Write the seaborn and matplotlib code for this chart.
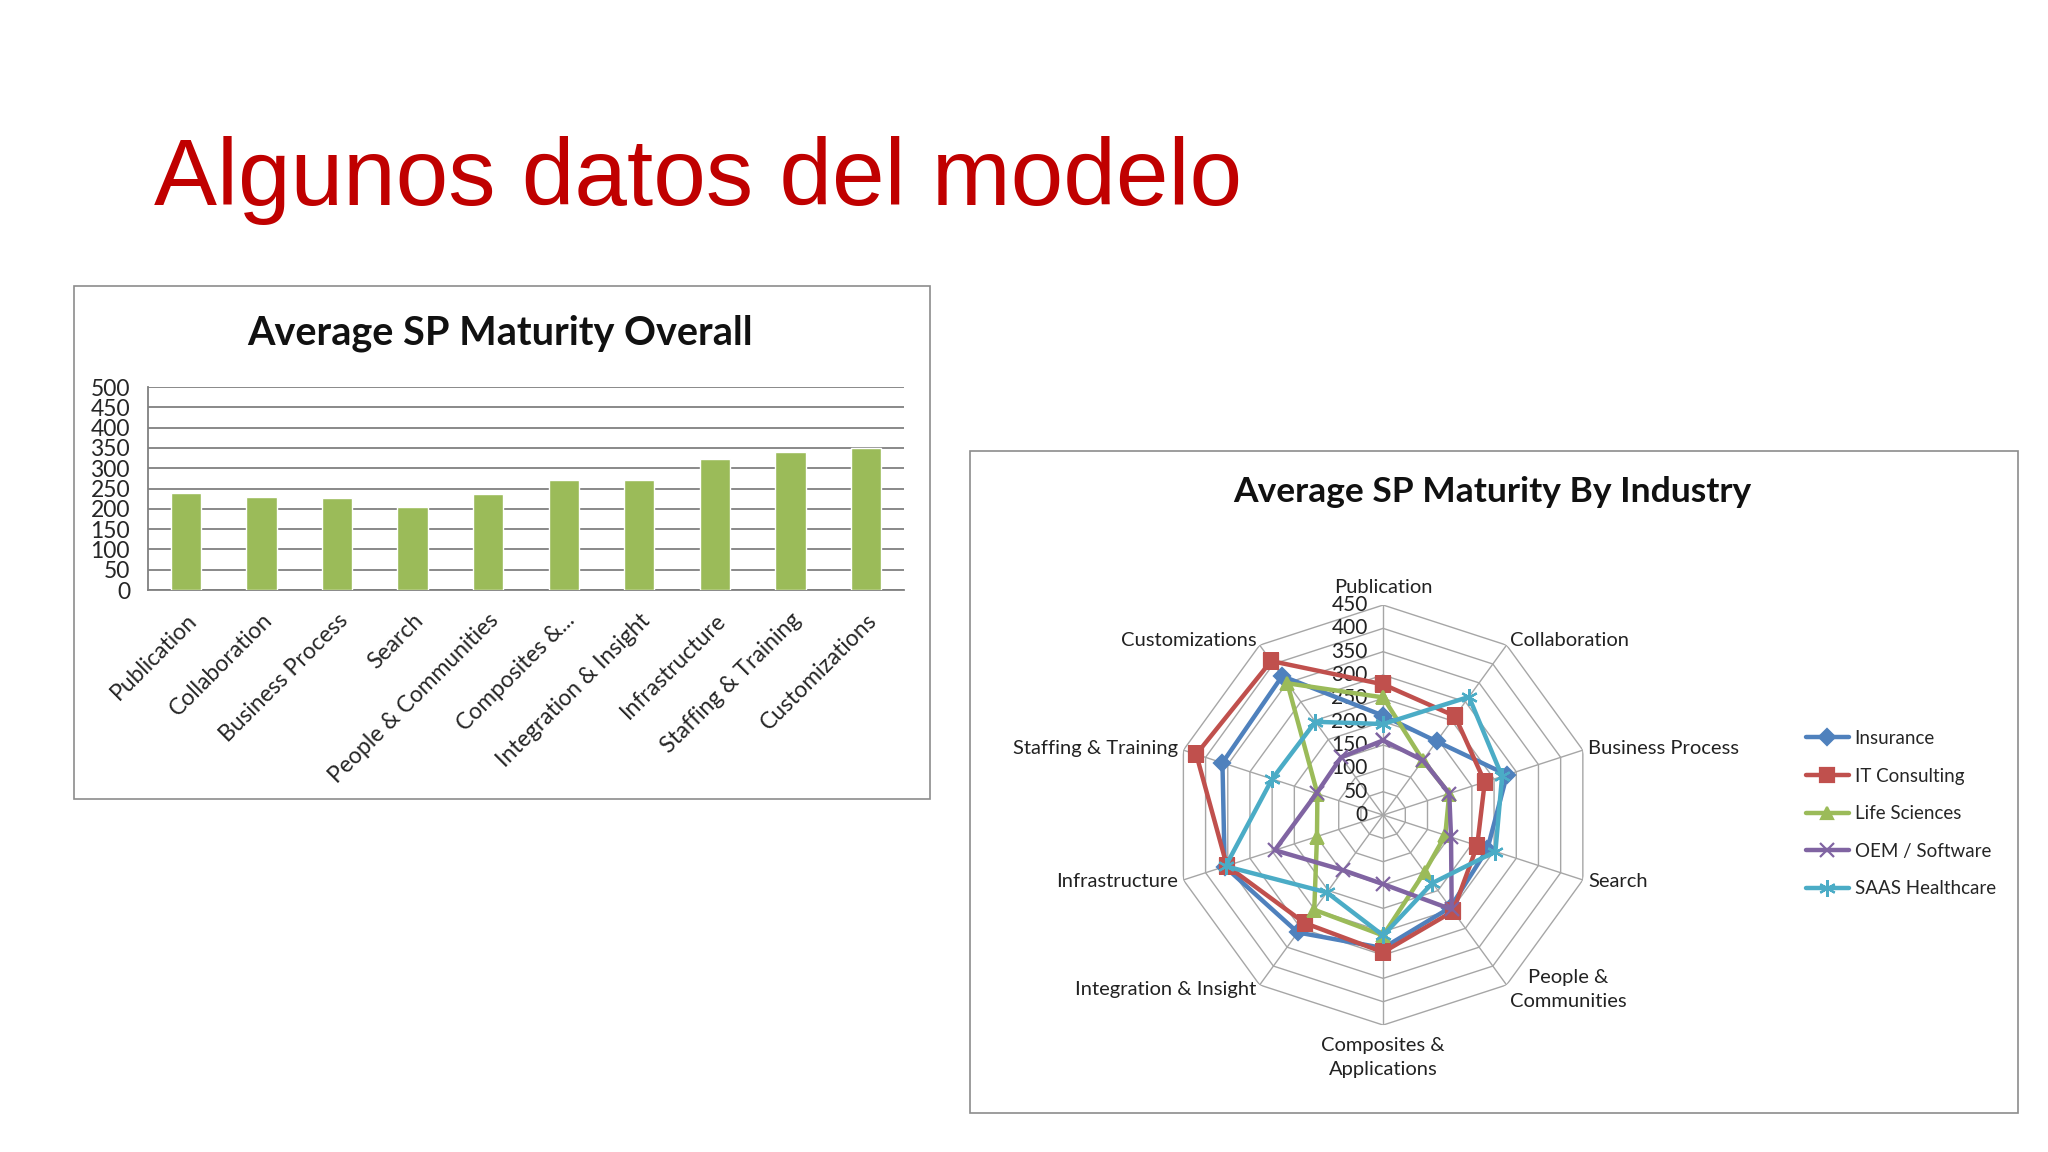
import matplotlib.pyplot as plt
import seaborn as sns
import numpy as np
import pandas as pd
from matplotlib.patches import Rectangle
from matplotlib.transforms import offset_copy

# datos
areas = ["Publication", "Collaboration", "Business Process", "Search",
         "People & Communities", "Composites & Applications",
         "Integration & Insight", "Infrastructure", "Staffing & Training",
         "Customizations"]
bar_labels = ["Publication", "Collaboration", "Business Process", "Search",
              "People & Communities", "Composites &...",
              "Integration & Insight", "Infrastructure", "Staffing & Training",
              "Customizations"]
radar_labels = ["Publication", "Collaboration", "Business Process", "Search",
                "People &\nCommunities", "Composites &\nApplications",
                "Integration & Insight", "Infrastructure", "Staffing & Training",
                "Customizations"]
overall = [240, 230, 226, 205, 236, 270, 270, 323, 340, 350]

industries = ["Insurance", "IT Consulting", "Life Sciences",
              "OEM / Software", "SAAS Healthcare"]
insurance = [213, 195, 279, 235, 245, 285, 311, 357, 362, 368]
it_consulting = [280, 262, 229, 212, 255, 294, 286, 352, 421, 408]
life_sciences = [252, 145, 149, 140, 151, 258, 251, 149, 148, 349]
oem_software = [160, 145, 149, 153, 250, 148, 146, 244, 150, 153]
saas_healthcare = [195, 313, 268, 253, 180, 258, 205, 355, 250, 247]
radar_ticks = list(range(0, 451, 50))

sns.set_theme(style="white")
plt.rcParams["font.family"] = ["Lato", "DejaVu Sans"]

fig = plt.figure(figsize=(20.48, 11.52), dpi=100)
fig.patch.set_facecolor("white")

fig.text(0.0752, 0.822, "Algunos datos del modelo", color="#C00000",
         fontsize=68, family=["Liberation Sans", "DejaVu Sans"], va="baseline")

# marcos de los dos graficos
for (x0, y0, w, h) in [(0.0361, 0.3064, 0.418, 0.4453), (0.4736, 0.0339, 0.5117, 0.5747)]:
    fig.add_artist(Rectangle((x0, y0), w, h, transform=fig.transFigure,
                             fill=False, ec="#8C8C8C", lw=1.2))

# ---- barras
ax_bar = fig.add_axes([0.0723, 0.4878, 0.369, 0.1762])
df_bar = pd.DataFrame({"area": bar_labels, "score": overall})
sns.barplot(data=df_bar, x="area", y="score", color="#9BBB59", saturation=1,
            width=0.4, ax=ax_bar, zorder=3)
ax_bar.set_ylim(0, 500)
ax_bar.set_yticks(range(0, 501, 50))
ax_bar.yaxis.grid(True, color="#808080", lw=1.3)
ax_bar.set_axisbelow(True)
ax_bar.set_xlabel("")
ax_bar.set_ylabel("")
for s in ["top", "right"]:
    ax_bar.spines[s].set_visible(False)
for s in ["left", "bottom"]:
    ax_bar.spines[s].set_color("#808080")
    ax_bar.spines[s].set_linewidth(1.3)
ax_bar.tick_params(axis="y", length=0, pad=13, labelsize=16.5)
ax_bar.tick_params(axis="x", length=0, pad=14, labelsize=16.5)
plt.setp(ax_bar.get_xticklabels(), rotation=45, ha="right", va="top",
         rotation_mode="anchor")
fig.text(0.2441, 0.7109, "Average SP Maturity Overall", ha="center",
         va="center", fontsize=28.5, fontweight="bold", color="#111111")

# ---- radar
ax_rad = fig.add_axes([0.5728, 0.1102, 0.2051, 0.3646], projection="polar")
ax_rad.set_theta_zero_location("N")
ax_rad.set_theta_direction(-1)
ax_rad.set_ylim(0, 450)
ax_rad.grid(False)
ax_rad.set_xticks([])
ax_rad.set_yticks([])
ax_rad.spines["polar"].set_visible(False)
ax_rad.patch.set_alpha(0)

angles = np.linspace(0, 2 * np.pi, len(areas), endpoint=False)
closed = np.append(angles, angles[0])
for r in radar_ticks[1:]:
    ax_rad.plot(closed, [r] * len(closed), color="#A6A6A6", lw=1.0, zorder=1)
for a in angles:
    ax_rad.plot([a, a], [0, 450], color="#A6A6A6", lw=1.0, zorder=1)

off = offset_copy(ax_rad.transData, fig=fig, x=-11, y=0, units="points")
for v in radar_ticks:
    ax_rad.text(0, v, str(v), transform=off, ha="right", va="center",
                fontsize=15, color="#222222", zorder=2)

for a, lab in zip(angles, radar_labels):
    s = np.sin(a)
    c = np.cos(a)
    if abs(s) < 0.1:
        ax_rad.text(a, 470 if c > 0 else 475, lab, ha="center",
                    va="bottom" if c > 0 else "top", fontsize=14.5,
                    color="#222222", multialignment="center", linespacing=1.5)
    else:
        ax_rad.text(a, 462, lab, ha="left" if s > 0 else "right", va="center",
                    fontsize=14.5, color="#222222", multialignment="center",
                    linespacing=1.5)

series = [insurance, it_consulting, life_sciences, oem_software, saas_healthcare]
colors = ["#4F81BD", "#C0504D", "#9BBB59", "#8064A2", "#4BACC6"]
markers = ["D", "s", "^", "x", (6, 2, 0)]
msizes = [8, 10, 9, 10, 12]
handles = []
for name, vals, col, mk, ms in zip(industries, series, colors, markers, msizes):
    line, = ax_rad.plot(closed, vals + vals[:1], color=col, lw=3.2, marker=mk,
                        markersize=ms, markeredgewidth=1.6, label=name, zorder=3)
    handles.append(line)

fig.legend(handles=handles, loc="upper left", bbox_to_anchor=(0.8735, 0.381),
           frameon=False, fontsize=13.5, labelspacing=1.1, handlelength=2.3,
           numpoints=1, handletextpad=0.3)
fig.text(0.7285, 0.5729, "Average SP Maturity By Industry", ha="center",
         va="center", fontsize=25.5, fontweight="bold", color="#111111")

fig.savefig("out.png", dpi=100, facecolor="white")
